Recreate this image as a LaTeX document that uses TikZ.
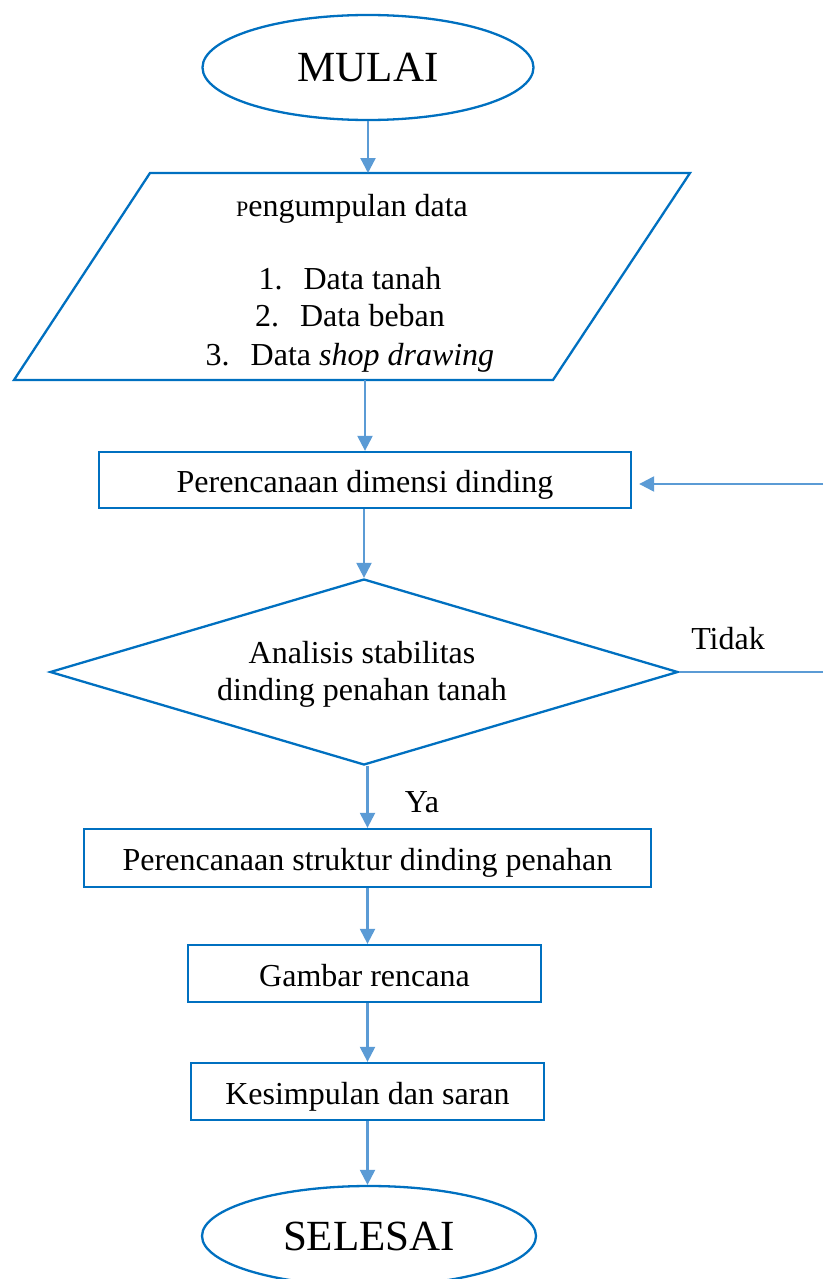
\documentclass[tikz,border=0pt]{standalone}
\usepackage{fontspec}
\setmainfont{Liberation Serif}
\usetikzlibrary{shapes.geometric,arrows.meta}
\definecolor{boxblue}{RGB}{0,112,192}
\definecolor{arrblue}{RGB}{91,155,213}
\begin{document}
\begin{tikzpicture}[x=1pt,y=-1pt,
  outline/.style={draw=boxblue, line width=2.3pt},
  box/.style={outline, rectangle, inner sep=0pt, font=\fontsize{32}{38}\selectfont, text height=28pt, text depth=3pt},
  term/.style={outline, ellipse, inner sep=0pt, font=\fontsize{43}{50}\selectfont},
  lbl/.style={inner sep=0pt, font=\fontsize{32}{38}\selectfont, text height=28pt, text depth=3pt},
  conn/.style={draw=arrblue, line width=2.3pt},
  flow/.style={conn, -{Triangle[length=15pt,width=15pt]}}]
\useasboundingbox (0,0) rectangle (823,1279);
% terminals
\node[term, minimum width=331pt, minimum height=105pt] (start) at (368,67.5) {MULAI};
% parallelogram (input)
\draw[outline] (150,173) -- (690,173) -- (553,380) -- (14,380) -- cycle;
\coordinate (pin) at (368,173);
\coordinate (pout) at (365,380);
\node[lbl] (ptitle) at (352,204) {{\fontsize{22}{22}\selectfont P}engumpulan data};
\node[lbl] (d1) at (350,277) {1.\hspace{21pt}Data tanah};
\node[lbl] (d2) at (350,314) {2.\hspace{21pt}Data beban};
\node[lbl] (d3) at (350,353) {3.\hspace{21pt}Data \textit{shop drawing}};
% process boxes
\node[box, minimum width=532pt, minimum height=56pt] (dim) at (365,480) {Perencanaan dimensi dinding};
\node[outline, diamond, aspect=3.376, inner sep=0pt, minimum width=628pt, minimum height=186pt] (cek) at (364,672) {};
\node[lbl] (c1) at (362,651) {Analisis stabilitas};
\node[lbl] (c2) at (362,688) {dinding penahan tanah};
\node[box, minimum width=567pt, minimum height=58pt] (struk) at (367.5,858) {Perencanaan struktur dinding penahan};
\node[box, minimum width=353pt, minimum height=57pt] (gambar) at (364.5,973.5) {Gambar rencana};
\node[box, minimum width=353pt, minimum height=57pt] (simpul) at (367.5,1091.5) {Kesimpulan dan saran};
\node[term, minimum width=334pt, minimum height=100pt] (end) at (369,1236) {SELESAI};
% labels
\node[lbl] (ya) at (422,800) {Ya};
\node[lbl] (tidak) at (728,637) {Tidak};
% free ends at the right edge
\coordinate (eR1) at (823,484);
\coordinate (eR2) at (823,672);
% connectors
\draw[flow] (start.south) -- (pin);
\draw[flow] (pout) -- (dim.north);
\draw[flow] (dim.south -| cek.north) -- (cek.north);
\draw[flow] (cek.south -| struk.north) -- (struk.north);
\draw[flow] (struk.south) -- (struk.south |- gambar.north);
\draw[flow] (struk.south |- gambar.south) -- (simpul.north);
\draw[flow] (simpul.south) -- (simpul.south |- end.north);
\draw[conn] (cek.east) -- (eR2);
\draw[flow, shorten >=7pt] (eR1) -- (dim.east |- eR1);
\end{tikzpicture}
\end{document}
